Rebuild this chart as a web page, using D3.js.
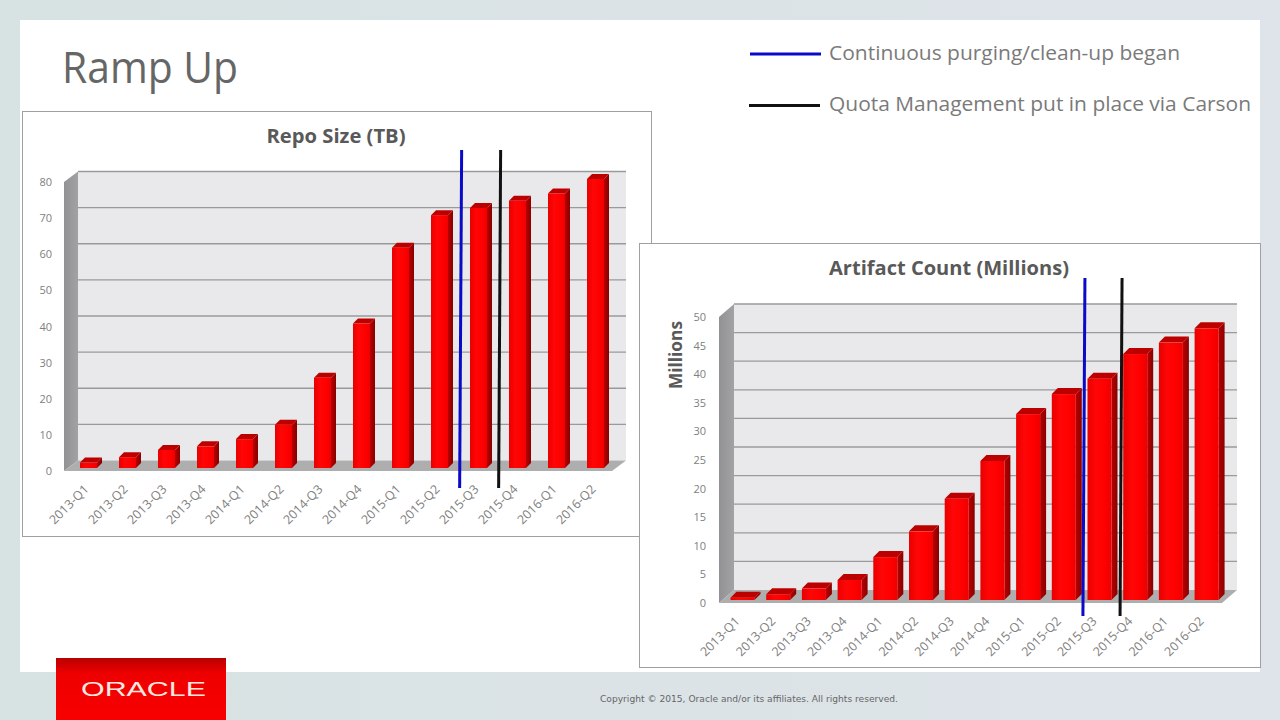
<!DOCTYPE html>
<html><head><meta charset="utf-8">
<script src="https://cdn.jsdelivr.net/npm/d3@7"></script>
<style>html,body{margin:0;padding:0;background:#fff}svg{display:block}text{font-family:"Open Sans",sans-serif}</style>
</head><body><svg id="c" width="1280" height="720"></svg>
<script>
const categories=["2013-Q1","2013-Q2","2013-Q3","2013-Q4","2014-Q1","2014-Q2","2014-Q3","2014-Q4","2015-Q1","2015-Q2","2015-Q3","2015-Q4","2016-Q1","2016-Q2"];
const repoSize=[1.5,3,5,6,8,12,25,40,61,70,72,74,76,80];
const artifactCount=[0.4,1,2,3.5,7.5,12,17.7,24.3,32.5,36,38.7,43,45,47.5];
const repoTicks=[0,10,20,30,40,50,60,70,80];
const artifactTicks=[0,5,10,15,20,25,30,35,40,45,50];
const purgeLabel="Continuous purging/clean-up began";
const quotaLabel="Quota Management put in place via Carson";
const repoMarkers=[9.76,10.76];
const artifactMarkers=[9.9,10.94];
const markerColors=["#0a0ac8","#111"];

const svg=d3.select("#c");
const defs=svg.append("defs");
function grad(id,stops,x2,y2){const g=defs.append("linearGradient").attr("id",id).attr("x1",0).attr("y1",0).attr("x2",x2).attr("y2",y2);
 stops.forEach(s=>g.append("stop").attr("offset",s[0]).attr("stop-color",s[1]));}
grad("bg",[[0,"#d7e2e2"],[1,"#dfe4ea"]],1,0);
grad("front",[[0,"#e80000"],[.35,"#ff0606"],[.7,"#ff0000"],[1,"#ee0000"]],1,0);
grad("side",[[0,"#b80000"],[1,"#8a0000"]],1,0);
grad("logo",[[0,"#b80000"],[.25,"#ee0000"],[1,"#f80000"]],0,1);
grad("lw",[[0,"#929294"],[1,"#a2a2a4"]],1,0);

svg.append("rect").attr("width",1280).attr("height",720).attr("fill","url(#bg)");
svg.append("rect").attr("x",20).attr("y",20).attr("width",1240).attr("height",652).attr("fill","#fff");
function fitText(x,y,t,size,len,color,weight,anchor){
 return svg.append("text").attr("x",x).attr("y",y).attr("font-size",size).attr("fill",color).attr("font-weight",weight||400)
  .attr("text-anchor",anchor||"start").attr("textLength",len).attr("lengthAdjust","spacingAndGlyphs").text(t);
}
fitText(62,83,"Ramp Up",44,176,"#666");
[[purgeLabel,750,821,54,60,351,markerColors[0]],[quotaLabel,749,820,105.5,111,422,markerColors[1]]].forEach(d=>{
 svg.append("line").attr("x1",d[1]).attr("x2",d[2]).attr("y1",d[3]).attr("y2",d[3]).attr("stroke",d[6]).attr("stroke-width",3);
 fitText(829,d[4],d[0],20,d[5],"#7a7a7a");
});

function chart(o){
 const g=svg.append("g");
 g.append("rect").attr("x",o.fx+.5).attr("y",o.fy+.5).attr("width",o.fw).attr("height",o.fh).attr("fill","#fff").attr("stroke","#a0a0a0");
 const y=d3.scaleLinear().domain([0,o.max]).range([o.y0,o.y1]);
 const x=d3.scaleBand().domain(categories).range([o.bx,o.bx+13*o.step+o.bw]).paddingInner(1-o.bw/o.step).paddingOuter(0);
 const xl=o.wallL-o.dx, xr=o.wallR, dx=o.dx, dy=o.dy;
 g.append("rect").attr("x",o.wallL).attr("y",y(o.max)-dy).attr("width",xr-o.wallL).attr("height",y(0)-y(o.max)).attr("fill","#e9e9eb");
 g.append("path").attr("fill","url(#lw)").attr("d",`M${xl},${y(o.max)}L${o.wallL},${y(o.max)-dy}V${y(0)-dy}L${xl},${y(0)}Z`);
 g.append("path").attr("fill","#aeaeae").attr("d",`M${xl},${y(0)}L${o.wallL},${y(0)-dy}H${xr}L${xr-dx},${y(0)}Z`);
 g.selectAll("line.grid").data(o.ticks).join("line").attr("class","grid").attr("x1",o.wallL).attr("x2",xr)
  .attr("y1",d=>y(d)-dy).attr("y2",d=>y(d)-dy).attr("stroke","#9a9a9a").attr("stroke-width",d=>d===0?0:1.3);
 const base=o.y0-o.baseLift;
 const k=(o.y0-o.y1)/o.max;
 const bars=g.selectAll("g.bar").data(o.values.map((v,i)=>({v,c:categories[i]}))).join("g").attr("class","bar");
 const top=d=>base-d.v*k;
 bars.append("path").attr("fill","url(#side)").attr("d",d=>{const r=x(d.c)+x.bandwidth();return `M${r},${top(d)}L${r+o.sx},${top(d)-o.sy}V${base-o.sy}L${r},${base}Z`;});
 bars.append("path").attr("fill","#bc0000").attr("d",d=>{const l=x(d.c),r=l+x.bandwidth();return `M${l},${top(d)}L${l+o.sx},${top(d)-o.sy}H${r+o.sx}L${r},${top(d)}Z`;});
 bars.append("rect").attr("x",d=>x(d.c)).attr("y",top).attr("width",x.bandwidth()).attr("height",d=>d.v*k).attr("fill","url(#front)");
 const ya=g.append("g").attr("transform",`translate(${o.labelX},0)`).call(d3.axisLeft(y).tickValues(o.ticks).tickSize(0).tickPadding(0));
 ya.select(".domain").remove();
 ya.selectAll("text").attr("font-size",11).attr("fill","#808080").attr("font-family","'Open Sans',sans-serif");
 const xa=g.append("g").attr("transform",`translate(${o.xlOffset},${o.xlY})`).call(d3.axisBottom(x).tickSize(0).tickPadding(0));
 xa.select(".domain").remove();
 xa.selectAll("text").attr("font-size",12.5).attr("fill","#808080").attr("font-family","'Open Sans',sans-serif")
  .attr("text-anchor","end").attr("dy",0).attr("transform","rotate(-45)");
 fitText(o.tx,o.ty,o.title,20,o.tlen,"#595959",700,"middle");
 const ix=d3.scaleLinear().domain([0,1]).range([o.bx,o.bx+o.step]);
 g.selectAll("line.mk").data(o.markers).join("line").attr("class","mk")
  .attr("x1",d=>ix(d)+1).attr("x2",d=>ix(d)-1).attr("y1",o.mTop).attr("y2",o.mBot)
  .attr("stroke",(d,i)=>markerColors[i]).attr("stroke-width",3);
}
chart({fx:22,fy:111,fw:629,fh:425,max:80,ticks:repoTicks,values:repoSize,y0:471,y1:182,wallL:78,wallR:626,dx:14,dy:10.5,
 bx:80,step:39,bw:17,sx:5,sy:5,baseLift:3,labelX:52,xlOffset:1,xlY:490,title:"Repo Size (TB)",tx:336,ty:143,tlen:139,markers:repoMarkers,mTop:150,mBot:488});
chart({fx:639,fy:243,fw:621,fh:424,max:50,ticks:artifactTicks,values:artifactCount,y0:603,y1:317,wallL:734,wallR:1237,dx:15,dy:13,
 bx:730.5,step:35.7,bw:24,sx:6,sy:6,baseLift:3,labelX:706,xlOffset:-2,xlY:622,title:"Artifact Count (Millions)",tx:949,ty:275,tlen:240,markers:artifactMarkers,mTop:278,mBot:616});
svg.append("text").attr("transform","translate(682,355) rotate(-90)").attr("text-anchor","middle").attr("font-size",18).attr("font-weight",700).attr("fill","#595959").attr("textLength",68).attr("lengthAdjust","spacingAndGlyphs").text("Millions");

svg.append("rect").attr("x",56).attr("y",658).attr("width",170).attr("height",62).attr("fill","url(#logo)");
svg.append("text").attr("x",81).attr("y",696).attr("font-size",21).attr("fill","#f8e8e0").attr("textLength",125).attr("lengthAdjust","spacingAndGlyphs").style("font-family","'Liberation Sans',sans-serif").text("ORACLE");
svg.append("text").attr("x",600).attr("y",702).attr("font-size",9.5).attr("fill","#666").attr("textLength",298).attr("lengthAdjust","spacingAndGlyphs").style("font-family","'DejaVu Sans',sans-serif").text("Copyright © 2015, Oracle and/or its affiliates. All rights reserved.");
</script></body></html>
